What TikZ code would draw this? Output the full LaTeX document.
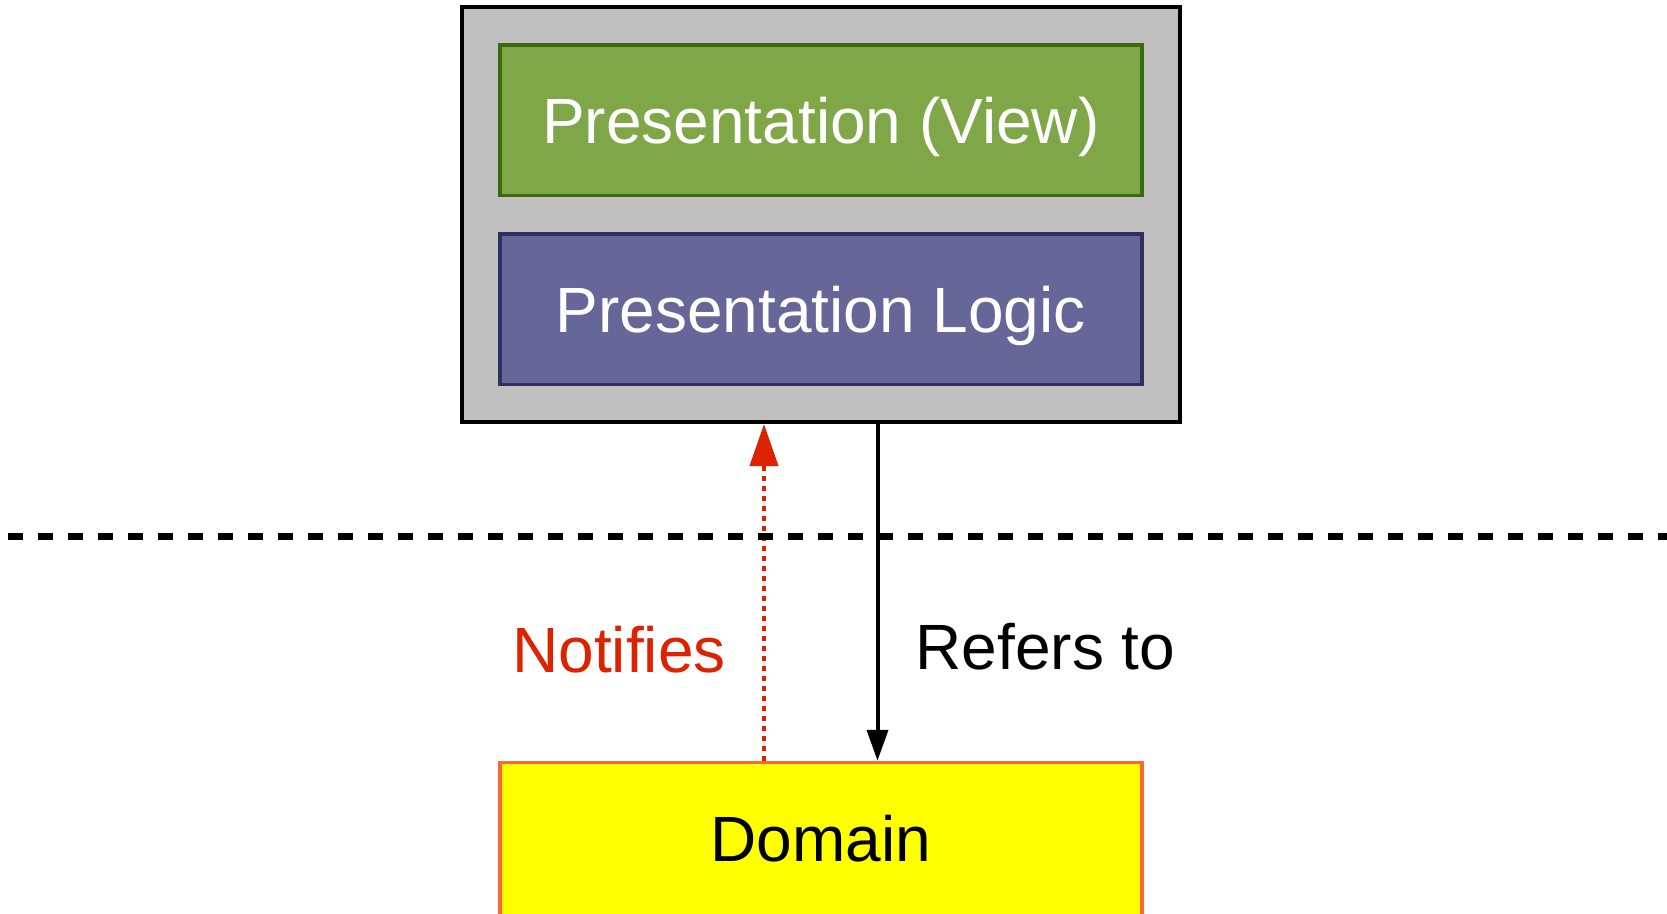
\documentclass[tikz,border=0pt]{standalone}
\usepackage{fontspec}
\setmainfont{Liberation Sans}
\usetikzlibrary{arrows.meta}

\definecolor{panelgray}{HTML}{C0C0C0}
\definecolor{viewfill}{HTML}{7FA647}
\definecolor{viewline}{HTML}{3A6A0C}
\definecolor{logicfill}{HTML}{666699}
\definecolor{logicline}{HTML}{30305F}
\definecolor{domainfill}{HTML}{FFFF00}
\definecolor{domainline}{HTML}{FF6633}
\definecolor{notifyred}{HTML}{DD2200}

\begin{document}
\begin{tikzpicture}[x=1pt, y=-1pt,
  bigfont/.style={font=\fontsize{64}{76}\selectfont},
  layerbox/.style={draw, line width=3.5pt, rectangle, bigfont,
    minimum width=642pt, minimum height=150.5pt,
    text height=46pt, text depth=0pt, inner sep=0pt},
  outerbox/.style={draw=black, fill=panelgray, line width=4pt, rectangle,
    minimum width=718pt, minimum height=415.5pt, inner sep=0pt},
  viewbox/.style={layerbox, draw=viewline, fill=viewfill, text=white},
  logicbox/.style={layerbox, draw=logicline, fill=logicfill, text=white},
  % the domain box runs off the lower edge; the extra depth lifts its text
  domainbox/.style={layerbox, draw=domainline, fill=domainfill, text=black,
    minimum height=160pt, text depth=9pt},
  edgelabel/.style={bigfont, anchor=base, inner sep=0pt},
  notifyarrow/.style={draw=notifyred, line width=4pt, dash pattern=on 5pt off 5pt,
    -{Triangle[length=42pt, width=28pt, fill=notifyred]}},
  refarrow/.style={draw=black, line width=4pt,
    -{Triangle[length=31pt, width=21pt]}},
  divider/.style={draw=black, line width=7pt, dash pattern=on 15pt off 15pt}
]
\useasboundingbox (0,0) rectangle (1667,913);
\fill[white] (0,0) rectangle (1667,913);

% presentation container with its two layers
\node[outerbox] (outer) at (821,214.3) {};
\node[viewbox] (view) at (820.75,120) {Presentation (View)};
\node[logicbox] (logic) at (820.75,309.3) {Presentation Logic};

% domain layer
\node[domainbox] (domain) at (820.75,842.5) {Domain};

% connectors between the presentation container and the domain
\coordinate (notifyx) at (764,0);
\coordinate (refx) at (877.5,0);
\draw[notifyarrow] (domain.north -| notifyx) -- (outer.south -| notifyx);
\draw[refarrow] (outer.south -| refx) -- (domain.north -| refx);

% layer boundary
\coordinate (divl) at (8,536);
\coordinate (divr) at (1667,536);
\draw[divider] (divl) -- (divr);

% connector labels
\node[edgelabel, text=notifyred] (notifylbl) at (619,672.7) {Notifies};
\node[edgelabel, text=black] (reflbl) at (1045.5,669) {Refers to};
\end{tikzpicture}
\end{document}
